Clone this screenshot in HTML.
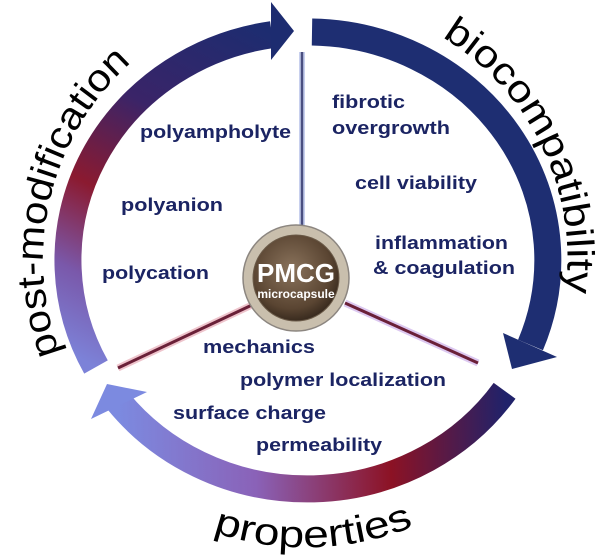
<!DOCTYPE html>
<html><head><meta charset="utf-8"><style>
html,body{margin:0;padding:0;background:#fff;}
svg{display:block;}
.it{font-family:"Liberation Sans",sans-serif;font-weight:bold;font-size:18px;fill:#1b2463;}
.big{font-family:"Liberation Sans",sans-serif;font-size:38px;fill:#000;}
</style></head><body>
<svg width="601" height="558" viewBox="0 0 601 558" xmlns="http://www.w3.org/2000/svg">
<defs>
<linearGradient id="g1" gradientUnits="userSpaceOnUse" x1="96" y1="367" x2="272" y2="34">
<stop offset="0" stop-color="#7c82d8"/><stop offset="0.2" stop-color="#7a58aa"/>
<stop offset="0.42" stop-color="#8b1a30"/><stop offset="0.68" stop-color="#3a2468"/>
<stop offset="1" stop-color="#1d2c70"/></linearGradient>
<linearGradient id="g3" gradientUnits="userSpaceOnUse" x1="118" y1="400" x2="505" y2="390">
<stop offset="0" stop-color="#7c8ae0"/><stop offset="0.35" stop-color="#8a62b8"/>
<stop offset="0.7" stop-color="#8c1224"/><stop offset="1" stop-color="#20226a"/></linearGradient>
<radialGradient id="cap" cx="0.45" cy="0.4" r="0.65">
<stop offset="0" stop-color="#8a735c"/><stop offset="0.7" stop-color="#5a4532"/><stop offset="1" stop-color="#2e2218"/></radialGradient>
<path id="tp1" d="M 60 353 A 265 265 0 0 1 134 60"/>
<path id="tp2" d="M 442 37 A 260 260 0 0 1 565 296"/>
<path id="tp3" d="M 213 532 A 287 287 0 0 0 412 527"/>
</defs>

<path d="M 96 367 A 240 228 0 0 1 272 34.6" fill="none" stroke="url(#g1)" stroke-width="27"/>
<polygon points="271,2 294,31 271,60" fill="#1d2c70"/>
<path d="M 312 32 A 240 228 0 0 1 530.5 345" fill="none" stroke="#1e2e72" stroke-width="27"/>
<polygon points="503,333 557,357 512,369" fill="#1e2e72"/>
<path d="M 504.6 390.8 A 240 228 0 0 1 118 401" fill="none" stroke="url(#g3)" stroke-width="27"/>
<polygon points="107,384 147,392 91,419" fill="#7c8ae0"/>

<line x1="302" y1="52" x2="302" y2="232" stroke="#c8d0ee" stroke-width="6"/>
<line x1="302" y1="52" x2="302" y2="232" stroke="#4a4f80" stroke-width="2.5"/>
<line x1="118" y1="368" x2="252" y2="305" stroke="#eec4cc" stroke-width="7"/>
<line x1="118" y1="368" x2="252" y2="305" stroke="#6a2038" stroke-width="3"/>
<line x1="478" y1="363" x2="345" y2="303" stroke="#dcc8f0" stroke-width="7"/>
<line x1="478" y1="363" x2="345" y2="303" stroke="#6a2038" stroke-width="3"/>

<circle cx="296" cy="278" r="53" fill="#c9bfad" stroke="#8c8680" stroke-width="1.5"/>
<circle cx="296" cy="278" r="43" fill="url(#cap)" stroke="#6a5a48" stroke-width="1"/>
<text x="296" y="282" text-anchor="middle" font-family="Liberation Sans,sans-serif" font-weight="bold" font-size="26" fill="#fff">PMCG</text>
<text x="296" y="298" text-anchor="middle" font-family="Liberation Sans,sans-serif" font-weight="bold" font-size="12" fill="#fff">microcapsule</text>

<text class="it" x="140" y="138" textLength="151" lengthAdjust="spacingAndGlyphs">polyampholyte</text>
<text class="it" x="121" y="211" textLength="102" lengthAdjust="spacingAndGlyphs">polyanion</text>
<text class="it" x="102" y="279" textLength="107" lengthAdjust="spacingAndGlyphs">polycation</text>
<text class="it" x="332" y="108" textLength="73" lengthAdjust="spacingAndGlyphs">fibrotic</text>
<text class="it" x="332" y="134" textLength="118" lengthAdjust="spacingAndGlyphs">overgrowth</text>
<text class="it" x="355" y="189" textLength="122" lengthAdjust="spacingAndGlyphs">cell viability</text>
<text class="it" x="375" y="249" textLength="133" lengthAdjust="spacingAndGlyphs">inflammation</text>
<text class="it" x="373" y="274" textLength="142" lengthAdjust="spacingAndGlyphs">&amp; coagulation</text>
<text class="it" x="203" y="353" textLength="112" lengthAdjust="spacingAndGlyphs">mechanics</text>
<text class="it" x="240" y="386" textLength="206" lengthAdjust="spacingAndGlyphs">polymer localization</text>
<text class="it" x="173" y="419" textLength="153" lengthAdjust="spacingAndGlyphs">surface charge</text>
<text class="it" x="256" y="451" textLength="126" lengthAdjust="spacingAndGlyphs">permeability</text>

<text class="big"><textPath href="#tp1" textLength="318" lengthAdjust="spacingAndGlyphs">post-modification</textPath></text>
<text class="big"><textPath href="#tp2" textLength="300" lengthAdjust="spacingAndGlyphs">biocompatibility</textPath></text>
<text class="big" font-size="42"><textPath href="#tp3" textLength="205" lengthAdjust="spacingAndGlyphs">properties</textPath></text>
</svg>
</body></html>
